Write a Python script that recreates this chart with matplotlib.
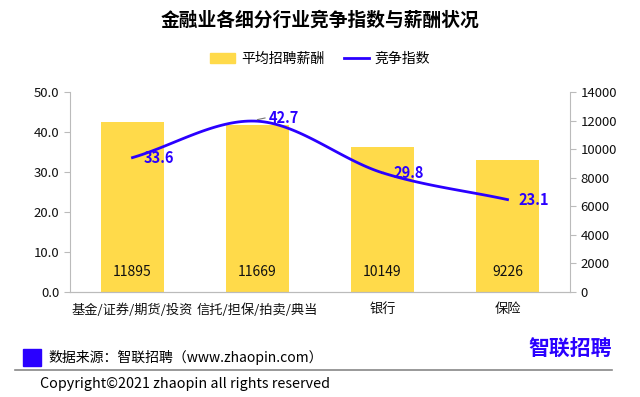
import matplotlib
matplotlib.use("Agg")
import matplotlib.pyplot as plt
import numpy as np
from matplotlib.patches import Patch, Rectangle
from matplotlib.lines import Line2D

plt.rcParams['font.family'] = ['Noto Sans CJK SC', 'DejaVu Sans']

categories = ["基金/证券/期货/投资", "信托/担保/拍卖/典当", "银行", "保险"]
salary = [11895, 11669, 10149, 9226]
index_vals = [33.6, 42.7, 29.8, 23.1]

BAR_COLOR = "#FFDA4A"
LINE_COLOR = "#2A00FF"
SPINE = "#BBBBBB"


def smooth(xs, ys, n=40):
  # catmull-rom through the points, like excel's smoothed line
  xs = np.asarray(xs, float)
  ys = np.asarray(ys, float)
  px = np.concatenate([[2 * xs[0] - xs[1]], xs, [2 * xs[-1] - xs[-2]]])
  py = np.concatenate([[2 * ys[0] - ys[1]], ys, [2 * ys[-1] - ys[-2]]])
  out_x, out_y = [], []
  for i in range(1, len(px) - 2):
    t = np.linspace(0, 1, n)
    for p, out in ((px, out_x), (py, out_y)):
      p0, p1, p2, p3 = p[i - 1], p[i], p[i + 1], p[i + 2]
      out.extend(0.5 * (2 * p1 + (-p0 + p2) * t + (2 * p0 - 5 * p1 + 4 * p2 - p3) * t ** 2
                        + (-p0 + 3 * p1 - 3 * p2 + p3) * t ** 3))
  return out_x, out_y


fig = plt.figure(figsize=(6.4, 3.97), dpi=100)
ax = fig.add_axes([70 / 640, 1 - 292 / 397, 500 / 640, 200 / 397])
ax2 = ax.twinx()
ax.set_zorder(ax2.get_zorder() + 1)
ax.patch.set_visible(False)

x = np.arange(len(categories))
ax2.bar(x, salary, width=0.51, color=BAR_COLOR)
for xi, v in zip(x, salary):
  ax2.text(xi, 1400, f"{v}", ha="center", va="center", fontsize=10, color="#111111")

sx, sy = smooth(x, index_vals)
ax.plot(sx, sy, color=LINE_COLOR, lw=2)
for i, (xi, v) in enumerate(zip(x, index_vals)):
  dy = 0.8 if i == 1 else 0
  ax.text(xi + 0.09, v + dy, f"{v}", ha="left", va="center", fontsize=10.5,
          fontweight="bold", color=LINE_COLOR)
# small leader next to the peak label
ax.plot([1.0, 1.06], [43.1, 43.5], color="#777777", lw=0.8)

ax.set_xlim(-0.5, 3.5)
ax.set_ylim(0, 50)
ax.set_yticks(np.arange(0, 51, 10))
ax.set_yticklabels([f"{t:.1f}" for t in np.arange(0, 51, 10)])
ax2.set_ylim(0, 14000)
ax2.set_yticks(np.arange(0, 14001, 2000))
ax.set_xticks(x)
ax.set_xticklabels(categories)

for a in (ax, ax2):
  for s in a.spines.values():
    s.set_color(SPINE)
  a.spines["top"].set_visible(False)
  a.tick_params(colors=SPINE, labelcolor="#111111", labelsize=9.5, length=4)
ax.spines["right"].set_visible(False)
ax2.spines["left"].set_visible(False)
ax.tick_params(axis="x", length=0, pad=8)

fig.text(0.5, 1 - 20 / 397, "金融业各细分行业竞争指数与薪酬状况", ha="center", va="center",
         fontsize=13.5, fontweight="bold")

handles = [Patch(color=BAR_COLOR), Line2D([0], [0], color=LINE_COLOR, lw=2)]
fig.legend(handles, ["平均招聘薪酬", "竞争指数"], loc="center", bbox_to_anchor=(0.5, 1 - 59 / 397),
           ncol=2, frameon=False, fontsize=10, handlelength=1.8, columnspacing=1.4, handletextpad=0.4)

# footer
fig.patches.append(Rectangle((23 / 640, 1 - 366 / 397), 18 / 640, 17 / 397,
                             transform=fig.transFigure, color=LINE_COLOR))
fig.text(48 / 640, 1 - 357 / 397, "数据来源：智联招聘（www.zhaopin.com）", va="center", fontsize=10)
fig.text(612 / 640, 1 - 349 / 397, "智联招聘", ha="right", va="center", fontsize=15,
         fontweight="bold", color=LINE_COLOR)
fig.add_artist(Line2D([15 / 640, 612 / 640], [1 - 370 / 397] * 2, color="#888888", lw=1.2))
fig.text(40 / 640, 1 - 384 / 397, "Copyright©2021 zhaopin all rights reserved", va="center", fontsize=10.3)

fig.savefig("out.png", dpi=100)
